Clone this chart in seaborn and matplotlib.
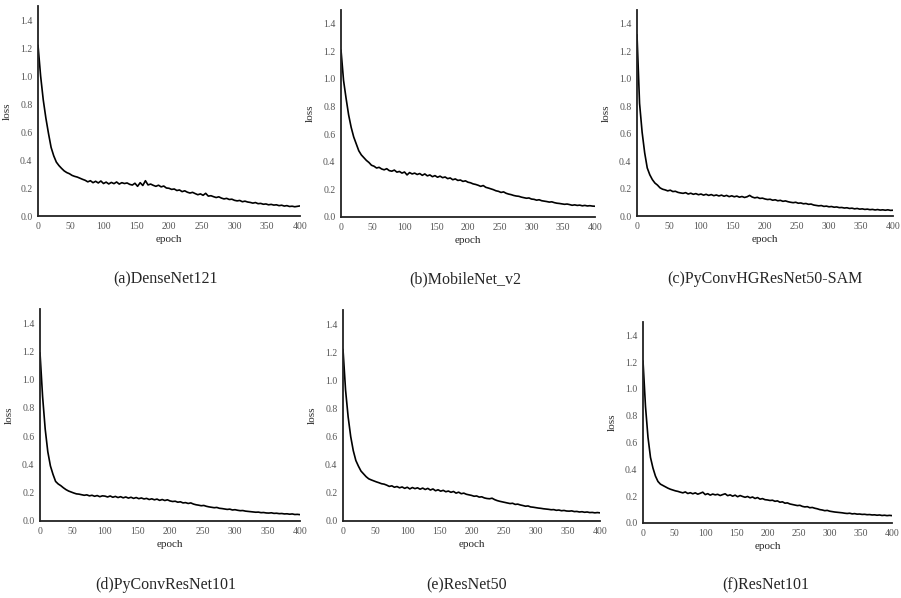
import numpy as np
import pandas as pd
import seaborn as sns
import matplotlib.pyplot as plt

# loss every 4 epochs (0, 4, ..., 400)
epochs = np.arange(0, 401, 4)

densenet121 = [
    1.22, 1.00, 0.83, 0.70, 0.59, 0.49, 0.43, 0.385, 0.36, 0.34,
    0.322, 0.31, 0.302, 0.29, 0.283, 0.278, 0.27, 0.262, 0.255, 0.244,
    0.252, 0.238, 0.248, 0.236, 0.25, 0.232, 0.242, 0.229, 0.24, 0.231,
    0.243, 0.228, 0.238, 0.232, 0.236, 0.226, 0.221, 0.234, 0.212, 0.238,
    0.218, 0.252, 0.222, 0.228, 0.219, 0.212, 0.22, 0.208, 0.214, 0.2,
    0.198, 0.19, 0.193, 0.182, 0.186, 0.174, 0.18, 0.17, 0.164, 0.169,
    0.16, 0.152, 0.158, 0.148, 0.162, 0.142, 0.145, 0.138, 0.132, 0.137,
    0.128, 0.122, 0.126, 0.118, 0.12, 0.112, 0.108, 0.111, 0.102, 0.106,
    0.1, 0.097, 0.092, 0.096, 0.088, 0.09, 0.084, 0.086, 0.08, 0.083,
    0.078, 0.08, 0.074, 0.077, 0.071, 0.074, 0.068, 0.07, 0.066, 0.069,
    0.072,
]
mobilenet_v2 = [
    1.21, 0.99, 0.86, 0.74, 0.65, 0.58, 0.53, 0.48, 0.45, 0.43,
    0.41, 0.395, 0.375, 0.368, 0.355, 0.36, 0.348, 0.342, 0.35, 0.336,
    0.332, 0.34, 0.325, 0.33, 0.318, 0.326, 0.305, 0.322, 0.312, 0.318,
    0.308, 0.315, 0.302, 0.312, 0.298, 0.305, 0.292, 0.3, 0.288, 0.296,
    0.285, 0.29, 0.278, 0.283, 0.27, 0.276, 0.265, 0.268, 0.258, 0.262,
    0.252, 0.248, 0.24, 0.236, 0.23, 0.222, 0.228, 0.215, 0.21, 0.204,
    0.198, 0.19, 0.186, 0.178, 0.182, 0.172, 0.166, 0.162, 0.156, 0.152,
    0.15, 0.144, 0.14, 0.136, 0.138, 0.13, 0.128, 0.122, 0.125, 0.118,
    0.115, 0.112, 0.108, 0.11, 0.104, 0.1, 0.098, 0.095, 0.092, 0.094,
    0.09, 0.085, 0.088, 0.084, 0.086, 0.081, 0.084, 0.08, 0.082, 0.079,
    0.078,
]
pyconvhg_sam = [
    1.32, 0.82, 0.61, 0.46, 0.35, 0.30, 0.265, 0.24, 0.225, 0.205,
    0.195, 0.19, 0.183, 0.188, 0.178, 0.18, 0.172, 0.168, 0.165, 0.17,
    0.16, 0.166, 0.158, 0.163, 0.155, 0.16, 0.152, 0.158, 0.15, 0.156,
    0.148, 0.153, 0.146, 0.152, 0.144, 0.15, 0.141, 0.147, 0.14, 0.145,
    0.137, 0.142, 0.135, 0.14, 0.15, 0.138, 0.132, 0.136, 0.128, 0.13,
    0.124, 0.12, 0.122, 0.115, 0.118, 0.111, 0.114, 0.107, 0.11, 0.104,
    0.1, 0.097, 0.1, 0.093, 0.095, 0.089, 0.091, 0.085, 0.087, 0.08,
    0.077, 0.074, 0.076, 0.07, 0.072, 0.067, 0.069, 0.064, 0.066, 0.061,
    0.062, 0.058, 0.06, 0.055, 0.057, 0.052, 0.055, 0.05, 0.052, 0.048,
    0.05, 0.046, 0.048, 0.044, 0.047, 0.043, 0.045, 0.042, 0.045, 0.041,
    0.042,
]
pyconvresnet101 = [
    1.19, 0.88, 0.65, 0.49, 0.39, 0.33, 0.28, 0.262, 0.25, 0.235,
    0.222, 0.212, 0.205, 0.198, 0.192, 0.19, 0.186, 0.182, 0.185, 0.178,
    0.182, 0.175, 0.18, 0.172, 0.178, 0.176, 0.17, 0.177, 0.168, 0.174,
    0.166, 0.172, 0.164, 0.17, 0.162, 0.168, 0.16, 0.166, 0.158, 0.163,
    0.156, 0.16, 0.152, 0.157, 0.15, 0.155, 0.146, 0.152, 0.145, 0.15,
    0.142, 0.138, 0.14, 0.133, 0.136, 0.128, 0.13, 0.124, 0.128, 0.12,
    0.115, 0.112, 0.108, 0.11, 0.104, 0.1, 0.097, 0.094, 0.096, 0.09,
    0.088, 0.085, 0.082, 0.084, 0.078, 0.08, 0.076, 0.073, 0.074, 0.07,
    0.068, 0.066, 0.064, 0.062, 0.063, 0.059, 0.06, 0.057, 0.056, 0.058,
    0.054, 0.055, 0.052, 0.053, 0.05, 0.051, 0.048, 0.05, 0.046, 0.047,
    0.045,
]
resnet50 = [
    1.22, 0.93, 0.74, 0.6, 0.5, 0.43, 0.39, 0.355, 0.335, 0.315,
    0.3, 0.292, 0.285, 0.278, 0.272, 0.265, 0.262, 0.255, 0.246, 0.25,
    0.24, 0.245, 0.236, 0.242, 0.232, 0.24, 0.228, 0.238, 0.23, 0.236,
    0.226, 0.234, 0.224, 0.232, 0.22, 0.228, 0.215, 0.222, 0.212, 0.218,
    0.208, 0.213, 0.204, 0.21, 0.198, 0.205, 0.194, 0.198, 0.19, 0.186,
    0.182, 0.176, 0.178, 0.17, 0.172, 0.164, 0.16, 0.158, 0.162, 0.152,
    0.145, 0.14, 0.136, 0.132, 0.128, 0.124, 0.126, 0.118, 0.12, 0.114,
    0.11, 0.105, 0.107, 0.1, 0.098, 0.095, 0.092, 0.09, 0.087, 0.085,
    0.083, 0.08, 0.081, 0.076, 0.078, 0.073, 0.075, 0.071, 0.07, 0.072,
    0.067, 0.068, 0.064, 0.066, 0.062, 0.064, 0.06, 0.061, 0.058, 0.06,
    0.058,
]
resnet101 = [
    1.21, 0.87, 0.64, 0.49, 0.41, 0.35, 0.31, 0.29, 0.28, 0.27,
    0.26, 0.252, 0.246, 0.24, 0.236, 0.23, 0.225, 0.232, 0.22, 0.226,
    0.218, 0.225, 0.215, 0.222, 0.23, 0.212, 0.219, 0.208, 0.216, 0.21,
    0.214, 0.205, 0.212, 0.218, 0.204, 0.21, 0.2, 0.208, 0.196, 0.205,
    0.198, 0.192, 0.198, 0.188, 0.194, 0.183, 0.19, 0.178, 0.182, 0.174,
    0.172, 0.168, 0.17, 0.162, 0.165, 0.155, 0.158, 0.148, 0.15, 0.142,
    0.138, 0.134, 0.13, 0.132, 0.124, 0.12, 0.122, 0.114, 0.116, 0.11,
    0.106, 0.1, 0.097, 0.092, 0.094, 0.088, 0.085, 0.082, 0.08, 0.078,
    0.076, 0.073, 0.071, 0.073, 0.068, 0.07, 0.066, 0.067, 0.064, 0.065,
    0.062, 0.063, 0.06, 0.061, 0.058, 0.06, 0.056, 0.058, 0.055, 0.057,
    0.055,
]

titles = ['(a)DenseNet121', '(b)MobileNet_v2', '(c)PyConvHGResNet50-SAM',
          '(d)PyConvResNet101', '(e)ResNet50', '(f)ResNet101']
series = [densenet121, mobilenet_v2, pyconvhg_sam,
          pyconvresnet101, resnet50, resnet101]
y_ticks = [0.0, 0.2, 0.4, 0.6, 0.8, 1.0, 1.2, 1.4]
x_ticks = [0, 50, 100, 150, 200, 250, 300, 350, 400]

sns.set_style('white')
plt.rcParams['font.family'] = ['Liberation Serif', 'DejaVu Serif']

W, H = 901, 598
fig = plt.figure(figsize=(W / 100, H / 100), dpi=100)

# axes boxes in pixels: left, top, right, bottom
boxes = [(38, 6, 300, 216), (341, 10, 595, 217), (637, 10, 893, 216),
         (40, 309, 300, 521), (343, 310, 600, 521), (643, 322, 892, 523)]
# caption centres in pixels
caption_pos = [(166, 279), (465, 279), (765, 279),
               (166, 585), (467, 585), (766, 585)]

for i, (l, t, r, b) in enumerate(boxes):
    ax = fig.add_axes([l / W, 1 - b / H, (r - l) / W, (b - t) / H])
    df = pd.DataFrame({'epoch': epochs, 'loss': series[i]})
    sns.lineplot(data=df, x='epoch', y='loss', ax=ax, color='black', linewidth=1.2)
    ax.set_xlim(0, 400)
    ax.set_ylim(0, 1.5)
    ax.set_xticks(x_ticks)
    ax.set_yticks(y_ticks)
    ax.set_yticklabels([f'{v:.1f}' for v in y_ticks])
    ax.tick_params(length=0, labelsize=7, labelcolor='#555555', pad=4)
    ax.set_xlabel('epoch', fontsize=8, labelpad=3)
    ax.set_ylabel('loss', fontsize=8, labelpad=6)
    sns.despine(ax=ax)
    for s in ['left', 'bottom']:
        ax.spines[s].set_color('#222222')
        ax.spines[s].set_linewidth(1.3)
    cx, cy = caption_pos[i]
    fig.text(cx / W, 1 - cy / H, titles[i], ha='center', va='center', fontsize=11.5)

fig.savefig('out.png', dpi=100, facecolor='white')
